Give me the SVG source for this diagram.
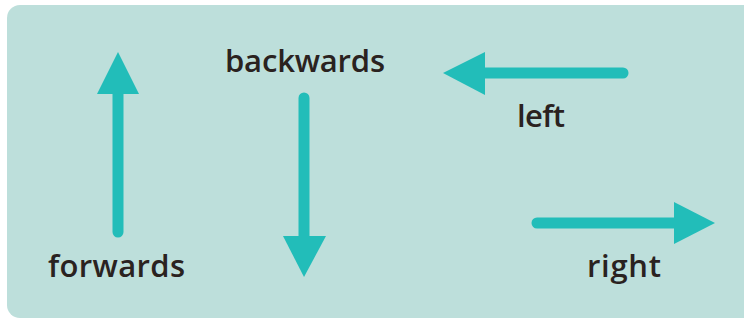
<svg xmlns="http://www.w3.org/2000/svg" width="744" height="320" viewBox="0 0 744 320">
<style>
.lbl{font-family:"Open Sans","Liberation Sans",sans-serif;font-weight:600;font-size:31px;fill:#2a2220}
.shaft{stroke:#22bdb9;stroke-width:11;stroke-linecap:round;fill:none}
.head{fill:#22bdb9}
</style>
<rect x="0" y="0" width="744" height="320" fill="#ffffff"/>
<rect id="panel" x="7" y="5" width="760" height="313" rx="13" fill="#bddfdb"/>
<g id="connectors">
<g id="arrow-forwards">
<line class="shaft" x1="118" y1="232" x2="118" y2="90"/>
<polygon class="head" points="118,52 139,94 97,94"/>
</g>
<g id="arrow-backwards">
<line class="shaft" x1="304" y1="98" x2="304" y2="240"/>
<polygon class="head" points="304,277 326,236 283,236"/>
</g>
<g id="arrow-left">
<line class="shaft" x1="623" y1="73" x2="480" y2="73"/>
<polygon class="head" points="443,73 485,52 485,95"/>
</g>
<g id="arrow-right">
<line class="shaft" x1="537" y1="223" x2="678" y2="223"/>
<polygon class="head" points="715,223 674,202 674,244"/>
</g>
</g>
<g id="node-backwards"><text class="lbl" x="225" y="72" textLength="160" lengthAdjust="spacing">backwards</text></g>
<g id="node-forwards"><text class="lbl" x="48" y="277" textLength="137" lengthAdjust="spacing">forwards</text></g>
<g id="node-left"><text class="lbl" x="517" y="127" textLength="48" lengthAdjust="spacing">left</text></g>
<g id="node-right"><text class="lbl" x="587" y="277" textLength="74" lengthAdjust="spacing">right</text></g>
</svg>
